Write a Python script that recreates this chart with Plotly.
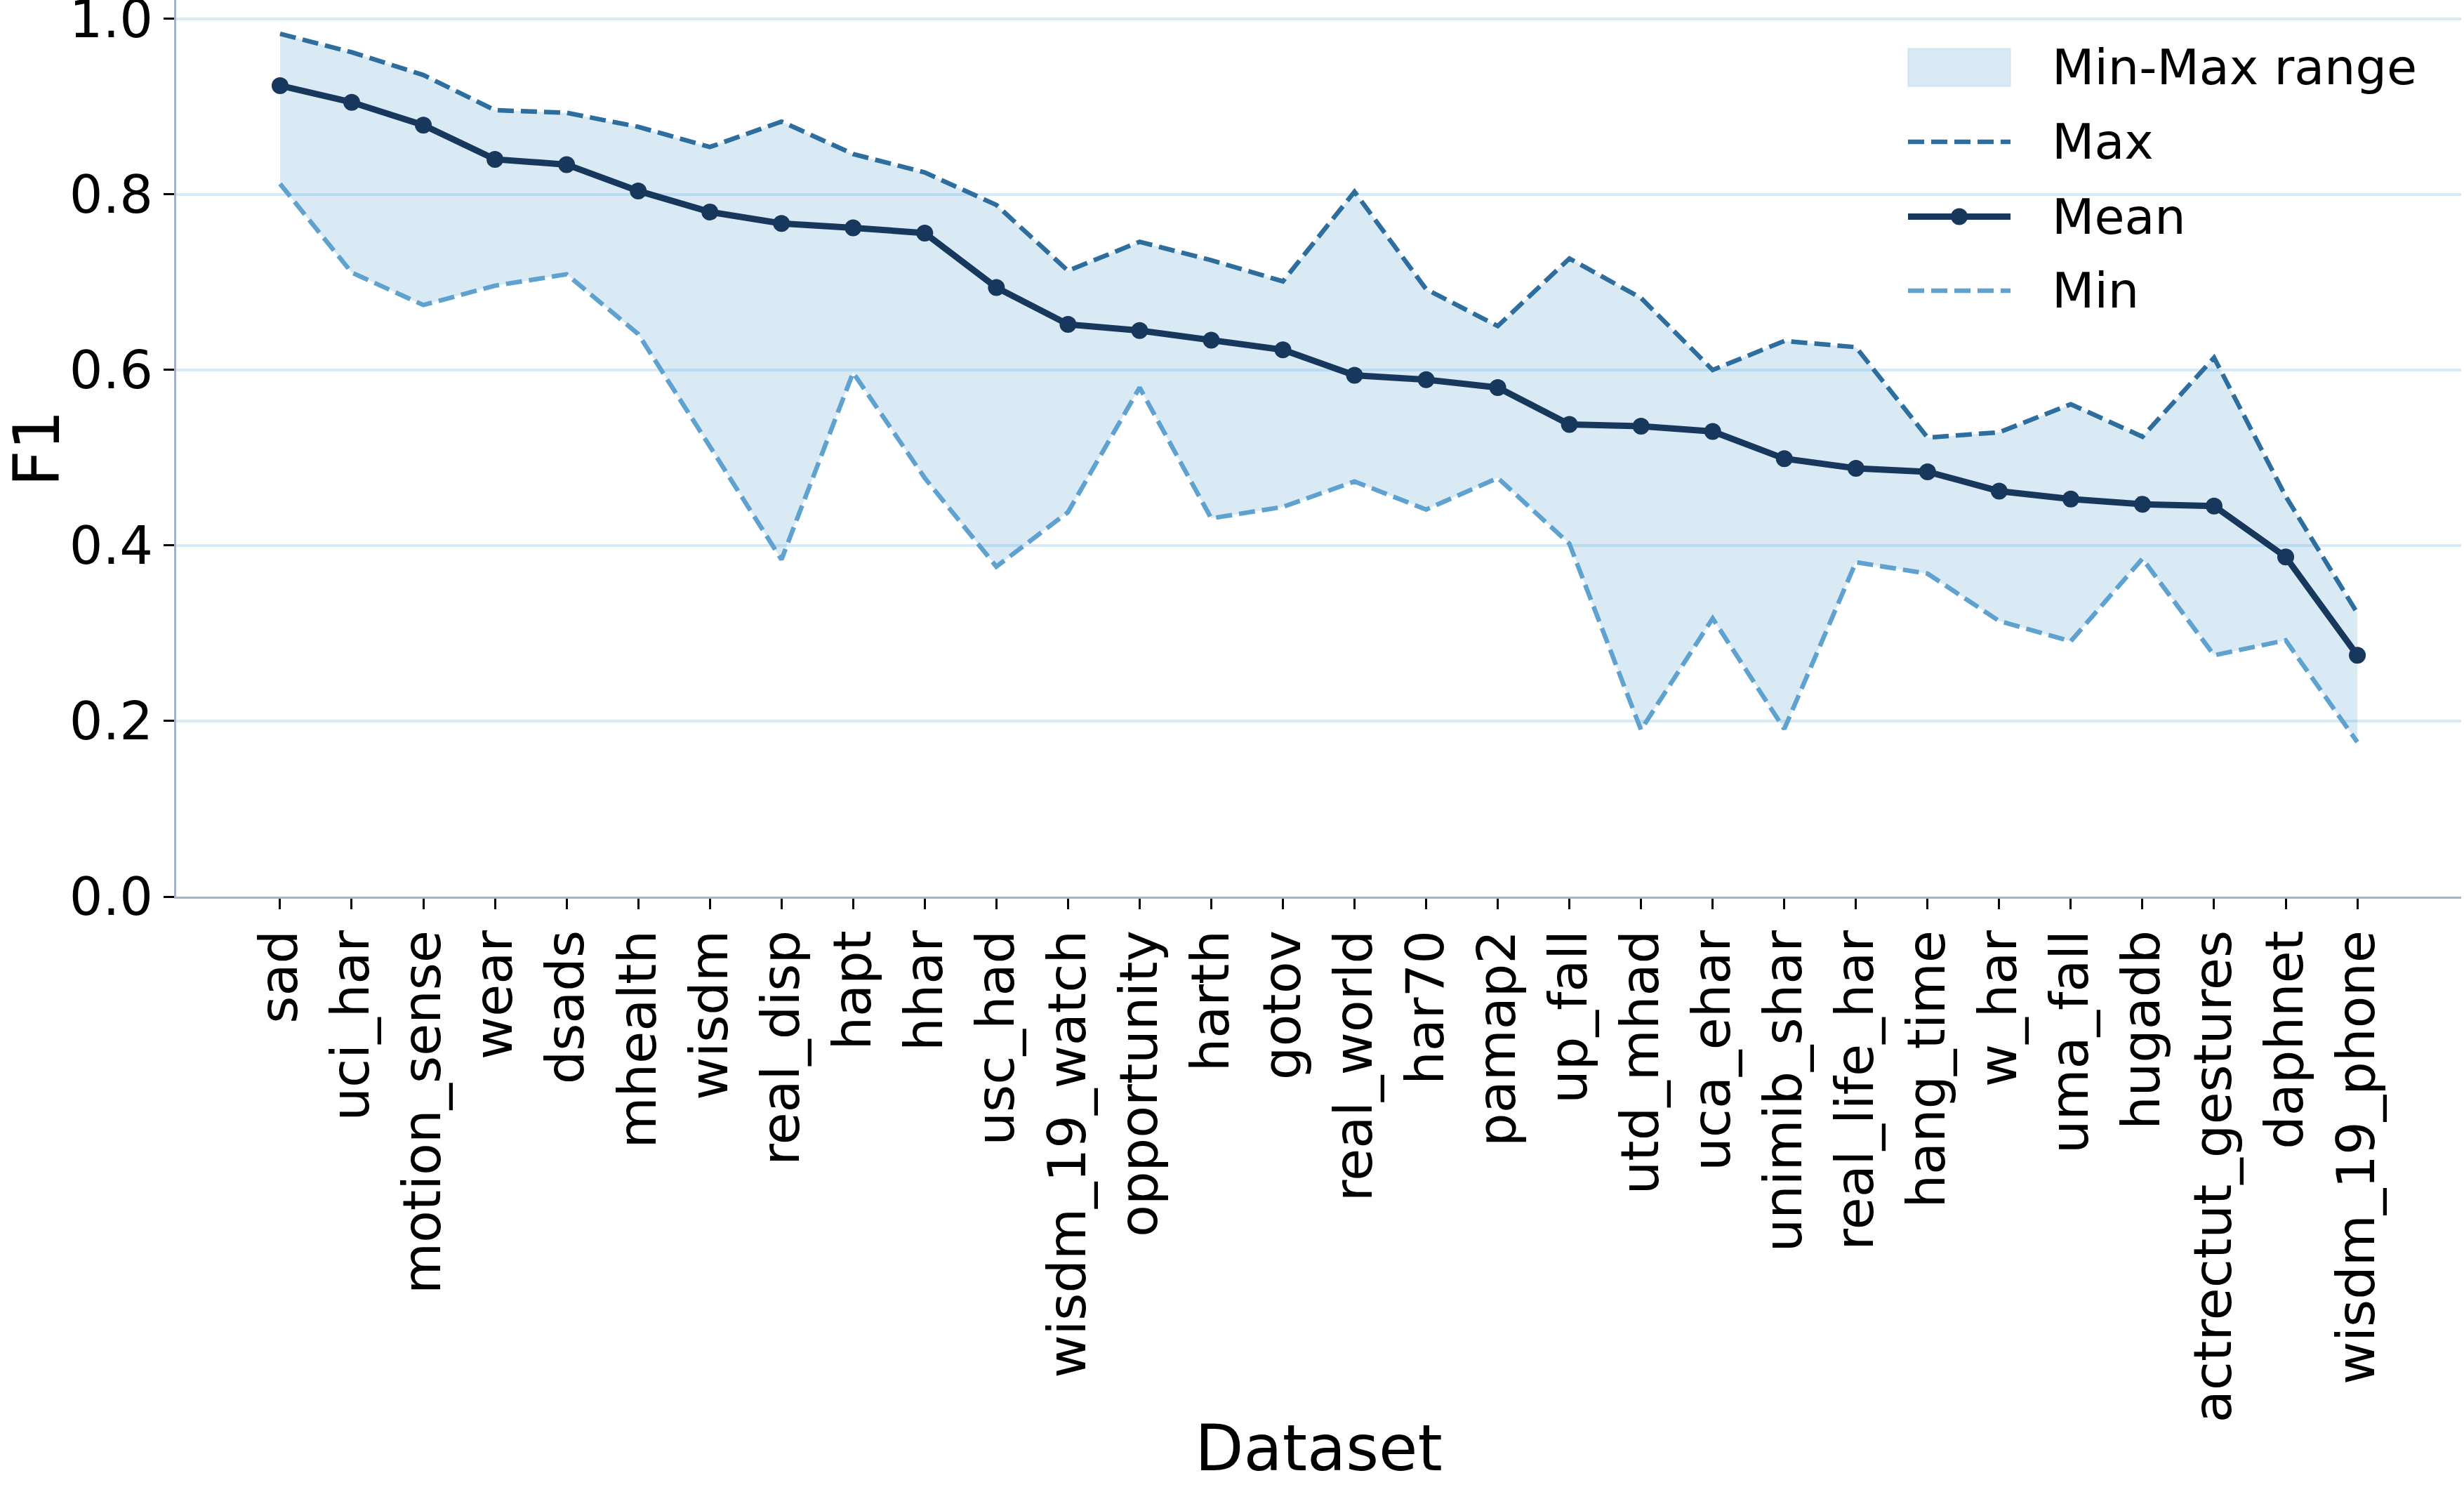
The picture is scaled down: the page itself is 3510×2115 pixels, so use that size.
import plotly.graph_objects as go

datasets = ["sad", "uci_har", "motion_sense", "wear", "dsads", "mhealth", "wisdm",
            "real_disp", "hapt", "hhar", "usc_had", "wisdm_19_watch", "opportunity",
            "harth", "gotov", "real_world", "har70", "pamap2", "up_fall", "utd_mhad",
            "uca_ehar", "unimib_shar", "real_life_har", "hang_time", "w_har",
            "uma_fall", "hugadb", "actrectut_gestures", "daphnet", "wisdm_19_phone"]

f1_mean = [0.924, 0.905, 0.879, 0.840, 0.834, 0.804, 0.780, 0.767, 0.762, 0.756,
           0.694, 0.652, 0.645, 0.634, 0.623, 0.594, 0.589, 0.580, 0.538, 0.536,
           0.530, 0.499, 0.488, 0.484, 0.462, 0.453, 0.447, 0.445, 0.387, 0.275]

f1_max = [0.983, 0.962, 0.936, 0.896, 0.893, 0.877, 0.854, 0.883, 0.846, 0.825,
          0.788, 0.713, 0.746, 0.725, 0.701, 0.803, 0.692, 0.650, 0.727, 0.682,
          0.600, 0.633, 0.626, 0.523, 0.529, 0.561, 0.524, 0.614, 0.456, 0.323]

f1_min = [0.812, 0.711, 0.674, 0.696, 0.709, 0.641, 0.513, 0.384, 0.597, 0.477,
          0.376, 0.438, 0.580, 0.431, 0.444, 0.473, 0.441, 0.477, 0.402, 0.190,
          0.317, 0.191, 0.381, 0.368, 0.314, 0.291, 0.385, 0.275, 0.292, 0.176]

y_ticks = [0.0, 0.2, 0.4, 0.6, 0.8, 1.0]
legend_labels = ["Min-Max range", "Max", "Mean", "Min"]

C_MEAN = "#17385c"
C_MAX = "#2e6e9e"
C_MIN = "#5fa2cf"
C_FILL = "rgba(107,174,214,0.26)"
FONT = "DejaVu Sans"
DASH = "23px,10px"

W, H = 3510, 2115
ML, MR, MT, MB = 251, 4, 0, 838
PW, PH = W - ML - MR, H - MT - MB

fig = go.Figure()

# band: lower bound (invisible) then upper bound filled to it
fig.add_trace(go.Scatter(x=datasets, y=f1_min, mode="lines",
                         line=dict(width=0, color=C_FILL), showlegend=False,
                         hoverinfo="skip"))
fig.add_trace(go.Scatter(x=datasets, y=f1_max, mode="lines", fill="tonexty",
                         fillcolor=C_FILL, line=dict(width=0, color=C_FILL),
                         name=legend_labels[0], showlegend=False))
fig.add_trace(go.Scatter(x=datasets, y=f1_max, mode="lines", name=legend_labels[1],
                         line=dict(color=C_MAX, width=6.5, dash=DASH),
                         showlegend=False))
fig.add_trace(go.Scatter(x=datasets, y=f1_mean, mode="lines+markers",
                         name=legend_labels[2],
                         line=dict(color=C_MEAN, width=9),
                         marker=dict(size=24, color=C_MEAN),
                         showlegend=False))
fig.add_trace(go.Scatter(x=datasets, y=f1_min, mode="lines", name=legend_labels[3],
                         line=dict(color=C_MIN, width=6.5, dash=DASH),
                         showlegend=False))

# ---- legend drawn in paper coordinates (pixel helpers) ----
def px(xp):
    return (xp - ML) / PW


def py(yp):
    return 1 - (yp - MT) / PH


shapes = []
annotations = []
sym_x0, sym_x1, text_x = 2718, 2864, 2921
row_y = [96, 202, 308.5, 414]

shapes.append(dict(type="rect", xref="paper", yref="paper",
                   x0=px(sym_x0), x1=px(sym_x1), y0=py(row_y[0] + 27), y1=py(row_y[0] - 27),
                   fillcolor=C_FILL, line=dict(color="rgba(107,174,214,0.15)", width=2)))
shapes.append(dict(type="line", xref="paper", yref="paper",
                   x0=px(sym_x0), x1=px(sym_x1), y0=py(row_y[1]), y1=py(row_y[1]),
                   line=dict(color=C_MAX, width=6.5, dash=DASH)))
shapes.append(dict(type="line", xref="paper", yref="paper",
                   x0=px(sym_x0), x1=px(sym_x1), y0=py(row_y[2]), y1=py(row_y[2]),
                   line=dict(color=C_MEAN, width=9)))
cx = (sym_x0 + sym_x1) / 2
shapes.append(dict(type="circle", xref="paper", yref="paper",
                   x0=px(cx - 12), x1=px(cx + 12), y0=py(row_y[2] + 12), y1=py(row_y[2] - 12),
                   fillcolor=C_MEAN, line=dict(color=C_MEAN, width=0)))
shapes.append(dict(type="line", xref="paper", yref="paper",
                   x0=px(sym_x0), x1=px(sym_x1), y0=py(row_y[3]), y1=py(row_y[3]),
                   line=dict(color=C_MIN, width=6.5, dash=DASH)))

for lab, yy in zip(legend_labels, row_y):
    annotations.append(dict(text=lab, xref="paper", yref="paper",
                            x=px(text_x), y=py(yy), xanchor="left", yanchor="middle",
                            showarrow=False, font=dict(size=70, family=FONT, color="black")))

fig.update_layout(
    width=W, height=H,
    margin=dict(l=ML, r=MR, t=MT, b=MB),
    paper_bgcolor="white", plot_bgcolor="white",
    font=dict(family=FONT, size=75, color="black"),
    showlegend=False,
    shapes=shapes, annotations=annotations,
    xaxis=dict(type="category", range=[-1.45, 30.45], showgrid=False,
               showline=True, linecolor="#a4b3c3", linewidth=3,
               ticks="outside", ticklen=15, tickwidth=3, tickcolor="black",
               tickangle=-90, tickfont=dict(size=75, family=FONT),
               title=dict(text="Dataset", font=dict(size=90, family=FONT), standoff=30),
               automargin=False),
    yaxis=dict(range=[0, 1.0215], tickvals=y_ticks,
               ticktext=[f"{v:.1f}" for v in y_ticks],
               showgrid=True, gridcolor="#d6eaf8", gridwidth=4, zeroline=False,
               showline=True, linecolor="#a4b3c3", linewidth=3,
               ticks="outside", ticklen=15, tickwidth=3, tickcolor="black",
               tickfont=dict(size=75, family=FONT), ticklabeloverflow="allow",
               title=dict(text="F1", font=dict(size=90, family=FONT), standoff=5),
               automargin=False),
)

fig.write_html("out.html")
